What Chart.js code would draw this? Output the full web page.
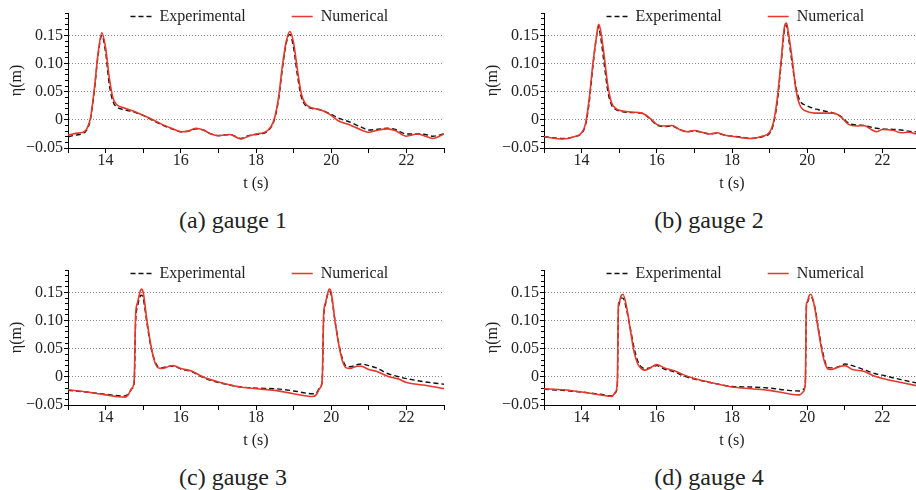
<!DOCTYPE html>
<html>
<head>
<meta charset="utf-8">
<script src="https://cdn.jsdelivr.net/npm/chart.js@4/dist/chart.umd.min.js"></script>
<style>
  html, body { margin: 0; padding: 0; background: #fff; }
  body { width: 916px; height: 490px; position: relative; overflow: hidden; }
  .panel { position: absolute; }
  .caption {
    position: absolute; width: 220px; text-align: center;
    font-family: 'Liberation Serif', 'DejaVu Serif', serif; font-size: 24px; line-height: 30px; color: #222;
  }
</style>
</head>
<body>
<canvas id="g1" class="panel" width="476" height="200" style="left:0px;top:0px"></canvas>
<canvas id="g2" class="panel" width="476" height="200" style="left:476px;top:0px"></canvas>
<canvas id="g3" class="panel" width="476" height="200" style="left:0px;top:257px"></canvas>
<canvas id="g4" class="panel" width="476" height="200" style="left:476px;top:257px"></canvas>
<div class="caption" style="left:123px;top:205px">(a) gauge 1</div>
<div class="caption" style="left:599px;top:205px">(b) gauge 2</div>
<div class="caption" style="left:123px;top:462px">(c) gauge 3</div>
<div class="caption" style="left:599px;top:462px">(d) gauge 4</div>
<script>
// series names and axis ticks
const seriesLabels = ['Experimental', 'Numerical'];
const xTicks = [13, 14, 15, 16, 17, 18, 19, 20, 21, 22, 23];
const xTickLabels = [14, 16, 18, 20, 22];
const yTicks = [-0.05, 0, 0.05, 0.10, 0.15];
const yTickLabels = ['\u22120.05', '0', '0.05', '0.10', '0.15'];

// gauge 1
const g1Time = [13.0, 13.2, 13.4, 13.5, 13.6, 13.7, 13.8, 13.9, 14.0, 14.1, 14.2, 14.3, 14.5, 14.8, 15.0, 15.2, 15.5, 15.8, 16.0, 16.2, 16.4, 16.6, 16.8, 17.0, 17.3, 17.6, 17.8, 18.0, 18.2, 18.4, 18.5, 18.6, 18.7, 18.8, 18.9, 19.0, 19.1, 19.2, 19.3, 19.5, 19.7, 19.9, 20.0, 20.2, 20.5, 20.8, 21.0, 21.2, 21.5, 21.7, 22.0, 22.3, 22.5, 22.7, 23.0];
const g1Exp = [-0.030, -0.027, -0.024, -0.018, 0.002, 0.052, 0.115, 0.150, 0.120, 0.062, 0.032, 0.023, 0.018, 0.013, 0.008, 0.001, -0.009, -0.017, -0.021, -0.020, -0.016, -0.018, -0.025, -0.028, -0.026, -0.033, -0.028, -0.026, -0.024, -0.013, 0.003, 0.036, 0.090, 0.135, 0.152, 0.128, 0.080, 0.042, 0.027, 0.020, 0.018, 0.013, 0.010, 0.003, -0.004, -0.013, -0.018, -0.017, -0.015, -0.017, -0.025, -0.025, -0.026, -0.029, -0.025];
const g1Num = [-0.027, -0.024, -0.022, -0.016, 0.004, 0.055, 0.118, 0.155, 0.128, 0.074, 0.038, 0.027, 0.021, 0.014, 0.008, 0.002, -0.008, -0.016, -0.021, -0.020, -0.015, -0.018, -0.025, -0.028, -0.026, -0.034, -0.029, -0.025, -0.023, -0.012, 0.005, 0.040, 0.095, 0.138, 0.157, 0.137, 0.090, 0.048, 0.030, 0.021, 0.018, 0.012, 0.008, -0.002, -0.009, -0.018, -0.022, -0.019, -0.016, -0.019, -0.029, -0.025, -0.029, -0.033, -0.025];

// gauge 2
const g2Time = [13.0, 13.5, 13.8, 14.0, 14.1, 14.2, 14.3, 14.4, 14.45, 14.5, 14.6, 14.7, 14.8, 14.9, 15.0, 15.3, 15.6, 15.8, 16.0, 16.2, 16.4, 16.6, 16.8, 17.0, 17.2, 17.4, 17.6, 17.8, 18.0, 18.3, 18.5, 18.8, 19.0, 19.1, 19.2, 19.3, 19.4, 19.45, 19.5, 19.6, 19.7, 19.8, 20.0, 20.3, 20.7, 20.9, 21.1, 21.3, 21.5, 21.7, 21.85, 22.0, 22.3, 22.5, 22.7, 23.0];
const g2Exp = [-0.030, -0.033, -0.030, -0.024, -0.010, 0.030, 0.095, 0.150, 0.166, 0.150, 0.100, 0.050, 0.026, 0.019, 0.016, 0.013, 0.012, 0.003, -0.009, -0.012, -0.011, -0.017, -0.021, -0.020, -0.022, -0.025, -0.024, -0.027, -0.029, -0.031, -0.033, -0.030, -0.024, -0.008, 0.030, 0.095, 0.162, 0.168, 0.148, 0.100, 0.058, 0.035, 0.025, 0.018, 0.012, 0.006, -0.006, -0.009, -0.010, -0.013, -0.015, -0.016, -0.017, -0.018, -0.020, -0.022];
const g2Num = [-0.030, -0.034, -0.030, -0.023, -0.008, 0.036, 0.100, 0.150, 0.170, 0.161, 0.114, 0.060, 0.030, 0.021, 0.017, 0.014, 0.012, 0.004, -0.008, -0.011, -0.010, -0.017, -0.021, -0.019, -0.022, -0.025, -0.023, -0.027, -0.029, -0.032, -0.033, -0.029, -0.022, -0.005, 0.036, 0.100, 0.167, 0.172, 0.155, 0.108, 0.054, 0.027, 0.015, 0.012, 0.012, 0.005, -0.008, -0.011, -0.010, -0.017, -0.021, -0.017, -0.019, -0.023, -0.022, -0.027];

// gauge 3
const g3Time = [13.0, 13.5, 14.0, 14.5, 14.6, 14.7, 14.76, 14.8, 14.85, 14.9, 14.95, 15.0, 15.1, 15.2, 15.3, 15.4, 15.5, 15.7, 15.8, 16.0, 16.3, 16.5, 16.7, 17.0, 17.5, 18.0, 18.5, 19.0, 19.5, 19.6, 19.7, 19.76, 19.8, 19.85, 19.9, 19.95, 20.0, 20.1, 20.2, 20.3, 20.4, 20.5, 20.7, 20.8, 21.0, 21.2, 21.5, 21.8, 22.0, 22.5, 23.0];
const g3Exp = [-0.024, -0.027, -0.031, -0.034, -0.031, -0.021, -0.010, 0.100, 0.125, 0.140, 0.145, 0.140, 0.095, 0.055, 0.030, 0.018, 0.016, 0.019, 0.019, 0.014, 0.009, 0.002, -0.004, -0.010, -0.017, -0.020, -0.021, -0.025, -0.030, -0.029, -0.019, -0.008, 0.105, 0.130, 0.145, 0.152, 0.146, 0.100, 0.060, 0.032, 0.019, 0.018, 0.022, 0.023, 0.020, 0.016, 0.006, 0.000, -0.003, -0.009, -0.013];
const g3Num = [-0.023, -0.027, -0.032, -0.036, -0.032, -0.020, -0.006, 0.112, 0.132, 0.147, 0.156, 0.150, 0.100, 0.058, 0.028, 0.016, 0.015, 0.019, 0.020, 0.015, 0.010, 0.003, -0.003, -0.009, -0.017, -0.021, -0.024, -0.030, -0.035, -0.032, -0.020, -0.006, 0.112, 0.132, 0.147, 0.156, 0.150, 0.100, 0.058, 0.028, 0.016, 0.015, 0.019, 0.019, 0.013, 0.010, 0.001, -0.004, -0.010, -0.015, -0.021];

// gauge 4
const g4Time = [13.0, 13.5, 14.0, 14.5, 14.8, 14.9, 14.95, 14.98, 15.0, 15.05, 15.1, 15.2, 15.3, 15.4, 15.5, 15.6, 15.7, 15.9, 16.0, 16.2, 16.5, 16.7, 17.0, 17.5, 18.0, 18.5, 19.0, 19.5, 19.8, 19.9, 19.95, 19.98, 20.0, 20.05, 20.1, 20.2, 20.3, 20.4, 20.5, 20.6, 20.7, 20.9, 21.0, 21.2, 21.5, 21.8, 22.0, 22.5, 23.0];
const g4Exp = [-0.022, -0.024, -0.027, -0.031, -0.034, -0.028, -0.015, 0.120, 0.130, 0.140, 0.140, 0.118, 0.085, 0.050, 0.027, 0.017, 0.015, 0.018, 0.020, 0.014, 0.008, 0.002, -0.004, -0.011, -0.017, -0.018, -0.020, -0.024, -0.025, -0.022, -0.012, 0.125, 0.132, 0.140, 0.142, 0.125, 0.085, 0.048, 0.022, 0.016, 0.016, 0.020, 0.023, 0.020, 0.013, 0.006, 0.003, -0.005, -0.012];
const g4Num = [-0.021, -0.023, -0.027, -0.032, -0.035, -0.027, -0.010, 0.130, 0.133, 0.144, 0.147, 0.123, 0.082, 0.043, 0.022, 0.014, 0.012, 0.019, 0.022, 0.016, 0.010, 0.004, -0.003, -0.011, -0.018, -0.021, -0.024, -0.030, -0.032, -0.026, -0.010, 0.130, 0.133, 0.144, 0.147, 0.123, 0.082, 0.043, 0.019, 0.013, 0.014, 0.019, 0.020, 0.013, 0.010, 0.001, -0.003, -0.010, -0.017];

const X_MIN = 13, X_MAX = 23;
const Y_MIN = -0.05, Y_MAX = 0.19, Y_MINOR_STEP = 0.01;

const TEXT = '#222';
const SERIF = "'Liberation Serif', 'DejaVu Serif', serif";
const LEGEND_GAP = 46;

// moves the legend inside the plot, just under the top of the y axis
const legendPlacer = {
  id: 'legendPlacer',
  afterLayout(chart) {
    const lg = chart.legend;
    const pad = lg.options.labels.padding;
    lg.left = chart.chartArea.left + 62.5 - pad;
    lg.top = chart.chartArea.top + 3.5 - 8 - pad;
    lg.right = chart.width;
    lg.bottom = lg.top + 90;
    lg.width = lg.right - lg.left;
    lg.height = lg.bottom - lg.top;
  }
};

function toPoints(t, v) {
  return t.map((x, i) => ({ x: x, y: v[i] }));
}

function drawGauge(id, time, exp, num) {
  const ctx = document.getElementById(id).getContext('2d');
  new Chart(ctx, {
    type: 'line',
    data: {
      datasets: [{
        label: seriesLabels[0],
        data: toPoints(time, exp),
        borderColor: '#111',
        borderWidth: 1.4,
        borderDash: [5, 3],
        pointRadius: 0,
        cubicInterpolationMode: 'monotone',
        order: 1
      }, {
        label: seriesLabels[1],
        data: toPoints(time, num),
        borderColor: '#e8372b',
        borderWidth: 1.6,
        pointRadius: 0,
        cubicInterpolationMode: 'monotone',
        order: 0
      }]
    },
    options: {
      responsive: false,
      animation: false,
      devicePixelRatio: 1,
      layout: { padding: { left: 0, top: 12, right: 32, bottom: 0 } },
      plugins: {
        tooltip: { enabled: false },
        legend: {
          position: 'top',
          align: 'start',
          maxHeight: 1,
          labels: {
            usePointStyle: true,
            pointStyle: 'line',
            pointStyleWidth: 21,
            padding: LEGEND_GAP,
            color: TEXT,
            font: { family: SERIF, size: 16 },
            generateLabels: function (chart) {
              const items = Chart.defaults.plugins.legend.labels.generateLabels(chart);
              items.forEach(item => {
                const ds = chart.data.datasets[item.datasetIndex];
                item.strokeStyle = ds.borderColor;
                item.lineWidth = ds.borderWidth;
                item.lineDash = ds.borderDash || [];
              });
              return items.sort((a, b) => a.datasetIndex - b.datasetIndex);
            }
          }
        }
      },
      scales: {
        x: {
          type: 'linear',
          min: X_MIN,
          max: X_MAX,
          afterBuildTicks: axis => { axis.ticks = xTicks.map(v => ({ value: v })); },
          afterFit: axis => { axis.height = 52; },
          ticks: {
            autoSkip: false,
            maxRotation: 0,
            padding: 0,
            color: TEXT,
            font: { family: SERIF, size: 16, lineHeight: 1 },
            callback: v => xTickLabels.includes(v) ? String(v) : ''
          },
          grid: { drawOnChartArea: false, tickLength: 5, tickColor: '#000', color: '#000' },
          border: { color: '#000', width: 1 },
          title: {
            display: true,
            text: 't (s)',
            color: TEXT,
            font: { family: SERIF, size: 16 },
            padding: { top: 0, bottom: 7 }
          }
        },
        y: {
          type: 'linear',
          position: 'left',
          weight: 1,
          min: Y_MIN,
          max: Y_MAX,
          afterBuildTicks: axis => { axis.ticks = yTicks.map(v => ({ value: v })); },
          afterFit: axis => { axis.width = 68; },
          ticks: {
            autoSkip: false,
            padding: 1,
            color: TEXT,
            font: { family: SERIF, size: 16 },
            callback: (v, i) => yTickLabels[i]
          },
          grid: {
            tickLength: 4,
            tickColor: '#000',
            lineWidth: 1,
            color: c => (c.tick && c.tick.value > Y_MIN) ? '#8a8a8a' : 'rgba(0,0,0,0)'
          },
          border: { color: '#000', width: 1, dash: [1, 2] },
          title: {
            display: true,
            text: '\u03b7(m)',
            color: TEXT,
            font: { family: SERIF, size: 16 },
            padding: { top: 7, bottom: 0 }
          }
        },
        yMinor: {
          type: 'linear',
          position: 'left',
          weight: 0,
          min: Y_MIN,
          max: Y_MAX,
          afterFit: axis => { axis.width = 0; },
          ticks: { display: false, stepSize: Y_MINOR_STEP },
          grid: { drawOnChartArea: false, tickLength: 3, tickColor: '#000', color: '#000' },
          border: { display: false }
        }
      }
    },
    plugins: [legendPlacer]
  });
}

drawGauge('g1', g1Time, g1Exp, g1Num);
drawGauge('g2', g2Time, g2Exp, g2Num);
drawGauge('g3', g3Time, g3Exp, g3Num);
drawGauge('g4', g4Time, g4Exp, g4Num);
</script>
</body>
</html>
